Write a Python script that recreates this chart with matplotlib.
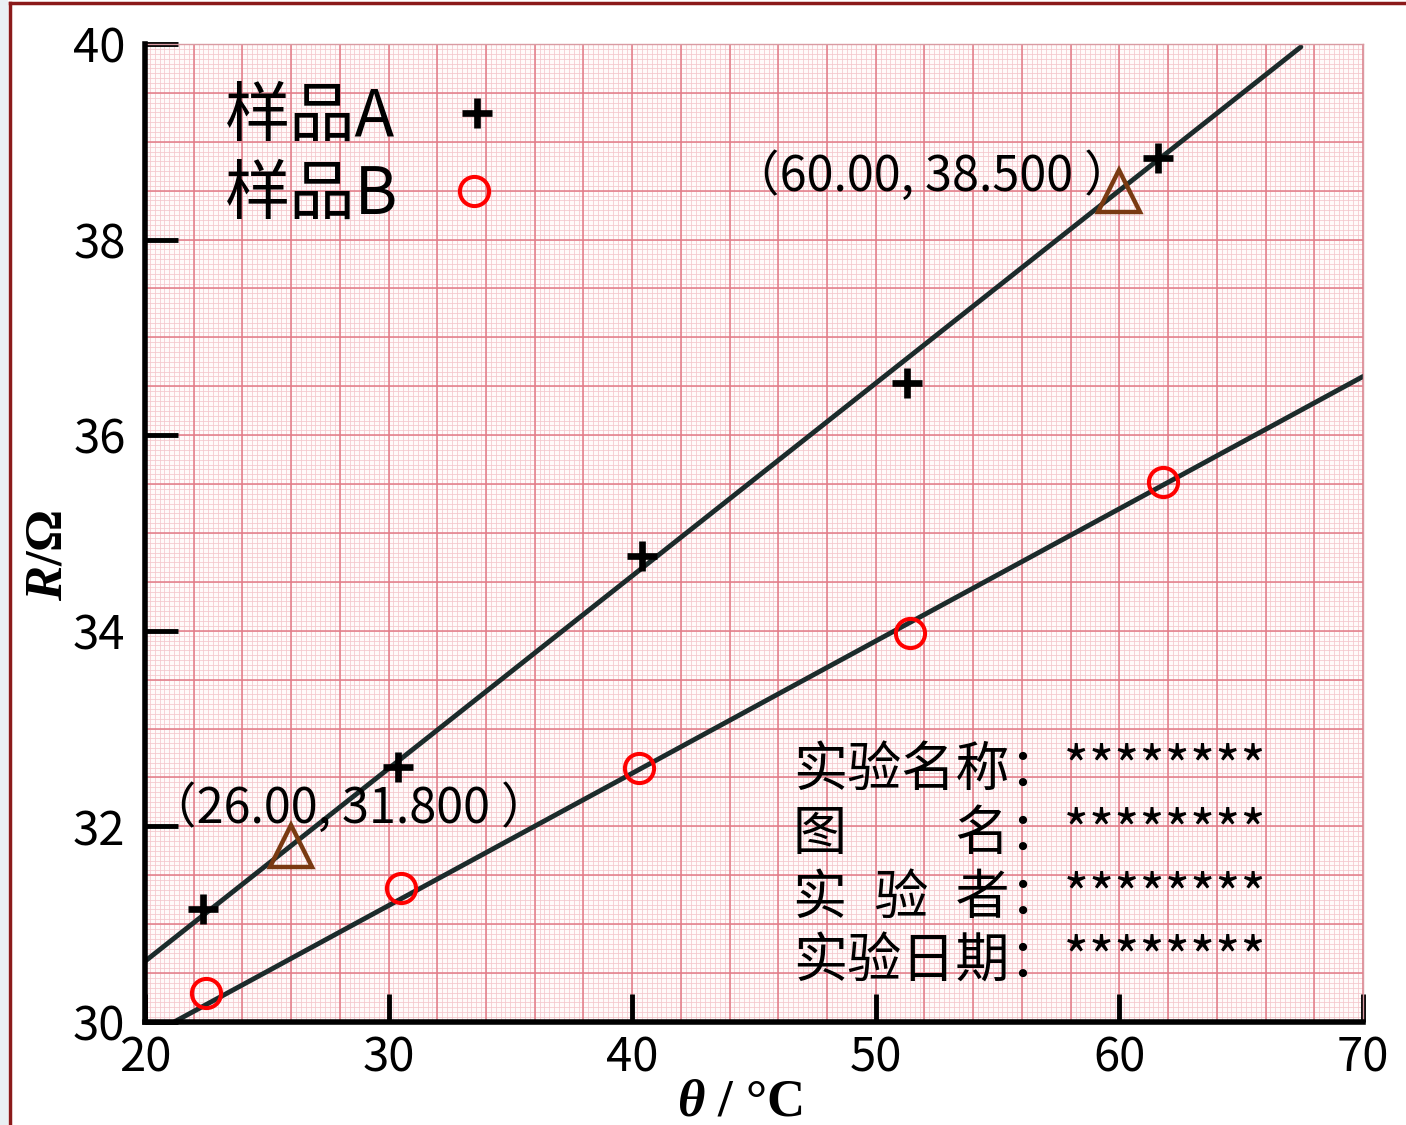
import matplotlib
matplotlib.use("Agg")
import matplotlib.pyplot as plt
from matplotlib.lines import Line2D
from matplotlib.patches import Rectangle
import numpy as np

plt.rcParams['font.family'] = ['Noto Sans CJK SC', 'DejaVu Sans']
plt.rcParams['mathtext.fontset'] = 'custom'
plt.rcParams['mathtext.it'] = 'Liberation Serif:italic:bold'
plt.rcParams['mathtext.rm'] = 'Liberation Serif:bold'

# measured points, sample A (+) and sample B (o)
a_temp = [22.4, 30.4, 40.4, 51.3, 61.6]
a_res = [31.15, 32.61, 34.76, 36.53, 38.83]
b_temp = [22.5, 30.5, 40.3, 51.4, 61.8]
b_res = [30.30, 31.37, 32.60, 33.98, 35.52]

# fitted lines (end points)
fit_a_temp = [20.0, 67.45]
fit_a_res = [30.62, 39.97]
fit_b_temp = [21.2, 70.0]
fit_b_res = [30.0, 36.6]

# points picked off line A for the slope
pick_temp = [26.0, 60.0]
pick_res = [31.8, 38.5]

x_ticks = [20, 30, 40, 50, 60, 70]
y_ticks = [30, 32, 34, 36, 38, 40]

info_lines = ['实验名称：********',
              '图　　名：********',
              '实\u2002验\u2002者：********',
              '实验日期：********']

fig = plt.figure(figsize=(14.06, 11.25), dpi=100)
ax = fig.add_axes([0.1031, 0.0916, 0.8663, 0.8693])
ax.set_xlim(20, 70)
ax.set_ylim(30, 40)

# graph paper background
ax.set_facecolor('#fffafa')
ax.vlines(np.arange(20, 70.01, 0.2), 30, 40, colors='#f4c6cc', lw=0.55, zorder=0)
ax.hlines(np.arange(30, 40.01, 0.05), 20, 70, colors='#f4c6cc', lw=0.55, zorder=0)
ax.vlines(np.arange(20, 70.01, 2), 30, 40, colors='#e27a86', lw=1.1, zorder=0.5)
ax.hlines(np.arange(30, 40.01, 0.5), 20, 70, colors='#e27a86', lw=1.1, zorder=0.5)

line_col = '#1c2b2b'
ax.plot(fit_a_temp, fit_a_res, color=line_col, lw=3.5, solid_capstyle='round', zorder=2)
ax.plot(fit_b_temp, fit_b_res, color=line_col, lw=3.5, solid_capstyle='round', zorder=2)

ax.plot(a_temp, a_res, ls='none', marker='+', ms=22, mew=4.8, color='black', zorder=3)
ax.plot(b_temp, b_res, ls='none', marker='o', ms=21, mew=2.9, mfc='none', mec='#ff0000', zorder=3)
ax.plot(pick_temp, pick_res, ls='none', marker='^', ms=30, mew=3.2, mfc='none', mec='#7a3a12', zorder=3)

for t, r, dx, dy in [(pick_temp[0], pick_res[0], -143, 23), (pick_temp[1], pick_res[1], -388, 0)]:
    ax.annotate('（{:.2f}, {:.3f} ）'.format(t, r), (t, r), xytext=(dx, dy),
                textcoords='offset pixels', fontsize=35, ha='left', va='baseline')

# legend drawn by hand
ax.text(0.0657, 0.906, '样品A', transform=ax.transAxes, fontsize=47, va='baseline')
ax.text(0.0657, 0.826, '样品B', transform=ax.transAxes, fontsize=47, va='baseline')
ax.plot([0.2726], [0.9294], transform=ax.transAxes, marker='+', ms=22, mew=4.8,
        color='black', clip_on=False)
ax.plot([0.2701], [0.8497], transform=ax.transAxes, marker='o', ms=21, mew=2.9,
        mfc='none', mec='#ff0000', clip_on=False)

for i, s in enumerate(info_lines):
    ax.text(0.5320, 0.2413 - i * 0.0654, s, transform=ax.transAxes, fontsize=39, va='baseline')

# axes frame and ticks
for side in ['left', 'bottom']:
    ax.spines[side].set_linewidth(4)
    ax.spines[side].set_color('black')
    ax.spines[side].set_zorder(4)
for side in ['top', 'right']:
    ax.spines[side].set_linewidth(1)
    ax.spines[side].set_color('#d99aa2')

ax.set_xticks(x_ticks)
ax.set_yticks(y_ticks)
ax.tick_params(axis='y', direction='in', length=24, width=3.5, pad=14, labelsize=34)
ax.tick_params(axis='x', direction='in', length=20, width=3.5, pad=9, labelsize=34)

ax.set_ylabel(r'$R$/Ω', fontfamily='Liberation Serif', fontweight='bold', fontsize=38)
ax.yaxis.set_label_coords(-0.0788, 0.4775)
ax.yaxis.label.set_va('center')
ax.set_xlabel(r'$\theta$ / °C', fontfamily='Liberation Serif', fontweight='bold', fontsize=38)
ax.xaxis.set_label_coords(0.4885, -0.0828)
ax.xaxis.label.set_va('center')

# page frame
fig.patches.append(Rectangle((0, 0), 8 / 1406, 1, transform=fig.transFigure,
                             facecolor='#eaf0f3', edgecolor='none', zorder=0))
fig.lines.append(Line2D([10 / 1406, 10 / 1406], [0, 1 - 3 / 1125], transform=fig.transFigure,
                        color='#8b1a1a', lw=2.5))
fig.lines.append(Line2D([10 / 1406, 1], [1 - 3 / 1125, 1 - 3 / 1125], transform=fig.transFigure,
                        color='#8b1a1a', lw=2.5))

fig.savefig('out.png', dpi=100)
